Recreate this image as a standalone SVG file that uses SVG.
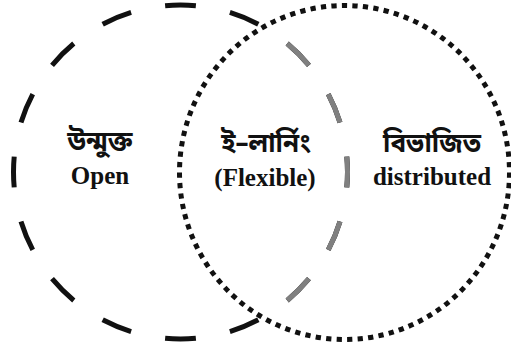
<svg xmlns="http://www.w3.org/2000/svg" width="511" height="354" viewBox="0 0 511 354">
<style>
.bn{font-family:"Noto Sans Bengali","Noto Serif Bengali","Lohit Bengali","FreeSerif","Mukti Narrow",sans-serif;font-size:26px;font-weight:bold;fill:#111;text-anchor:middle}
.en{font-family:"Liberation Serif",serif;font-weight:bold;font-size:25px;fill:#111;text-anchor:middle}
.dash{fill:none;stroke-width:5;stroke-dasharray:31 35;stroke-dashoffset:15.5}
</style>
<defs>
<clipPath id="inR"><ellipse cx="344.5" cy="172.5" rx="165" ry="167"/></clipPath>
</defs>
<rect width="511" height="354" fill="#fff"/>
<g id="connectors">
<circle id="open-circle" class="dash" cx="180.5" cy="172" r="167" pathLength="1056" stroke="#111"/>
<circle id="open-circle-inner" class="dash" cx="180.5" cy="172" r="167" pathLength="1056" stroke="#808080" clip-path="url(#inR)"/>
<ellipse id="distributed-circle" cx="344.5" cy="172.5" rx="165" ry="167" fill="none" stroke="#111" stroke-width="5" pathLength="990" stroke-dasharray="5 5"/>
</g>
<g id="open">
<text class="bn" x="100" y="150">উন্মুক্ত</text>
<text class="en" x="100" y="184">Open</text>
</g>
<g id="elearning">
<text class="bn" x="266" y="152">ই–লার্নিং</text>
<text class="en" x="265" y="186">(Flexible)</text>
</g>
<g id="distributed">
<text class="bn" x="432" y="152">বিভাজিত</text>
<text class="en" x="432" y="185">distributed</text>
</g>
</svg>
